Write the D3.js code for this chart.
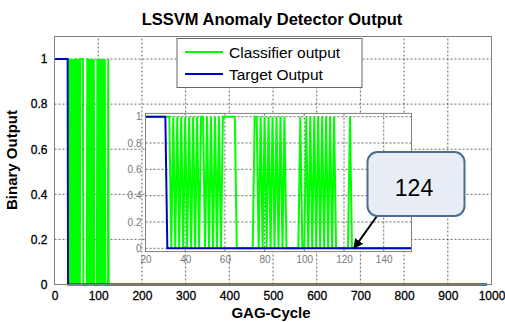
<!DOCTYPE html>
<html>
<head>
<meta charset="utf-8">
<script src="https://cdn.jsdelivr.net/npm/d3@7"></script>
<style>
  body { margin: 0; background: #fff; }
  text { font-family: "Liberation Sans", Arial, sans-serif; }
</style>
</head>
<body>
<svg id="chart" width="505" height="322"></svg>
<script>
// classifier output for cycles 1..124, 0 afterwards
const classifierOut = [
  1,1,1,1,1,1,1,1,1,1, 1,1,1,1,1,1,1,1,1,1, 1,1,1,1,1,1,1,1,1,1,
  1,1,0,1,0,1,0,1,0,1, 0,1,0,1,0,1,0,1,1,0, 1,0,1,0,1,0,1,0,1,1,
  1,1,1,1,1,0,0,0,0,0, 0,0,0,0,1,1,0,1,0,1, 0,1,0,1,0,1,0,1,0,1,
  0,0,0,0,0,0,0,1,0,0, 1,0,1,0,1,0,1,0,1,0, 1,0,1,0,1,0,0,0,0,0,
  0,0,1,0
];
const lastCycle = 990;
// target output change points [cycle, value]
const targetOut = [[1, 1], [30, 1], [31, 0], [990, 0]];

const mainXTicks = [0, 100, 200, 300, 400, 500, 600, 700, 800, 900, 1000];
const mainYTicks = [0, 0.2, 0.4, 0.6, 0.8, 1];
const insetXTicks = [20, 40, 60, 80, 100, 120, 140];
const insetYTicks = [0, 0.2, 0.4, 0.6, 0.8, 1];

const classPts = classifierOut.map((v, i) => [i + 1, v]);
classPts.push([lastCycle, 0]);

const svg = d3.select("#chart");

function drawPanel(opt) {
  const x = d3.scaleLinear().domain(opt.xd).range(opt.xr);
  const y = d3.scaleLinear().domain(opt.yd).range(opt.yr);
  const g = svg.append("g");
  g.append("rect")
    .attr("x", opt.xr[0]).attr("y", opt.yr[1])
    .attr("width", opt.xr[1] - opt.xr[0]).attr("height", opt.yr[0] - opt.yr[1])
    .attr("fill", "#fff");

  // grid
  g.selectAll(".gx").data(opt.xt.filter(d => d > opt.xd[0] && d < opt.xd[1]))
    .enter().append("line")
    .attr("x1", d => x(d)).attr("x2", d => x(d))
    .attr("y1", opt.yr[0]).attr("y2", opt.yr[1])
    .attr("stroke", "#444").attr("stroke-width", 0.8).attr("stroke-dasharray", "2,2");
  g.selectAll(".gy").data(opt.yt.filter(d => d > opt.yd[0] && d < opt.yd[1]))
    .enter().append("line")
    .attr("y1", d => y(d)).attr("y2", d => y(d))
    .attr("x1", opt.xr[0]).attr("x2", opt.xr[1])
    .attr("stroke", "#444").attr("stroke-width", 0.8).attr("stroke-dasharray", "2,2");

  const clipId = "clip" + opt.id;
  g.append("clipPath").attr("id", clipId).append("rect")
    .attr("x", opt.xr[0]).attr("y", opt.yr[1] - 2)
    .attr("width", opt.xr[1] - opt.xr[0]).attr("height", opt.yr[0] - opt.yr[1] + 4);

  const line = d3.line().x(d => x(d[0])).y(d => y(d[1]));
  const lines = g.append("g").attr("clip-path", `url(#${clipId})`);
  lines.append("path").datum(classPts).attr("d", line)
    .attr("fill", "none").attr("stroke", "#00ff00").attr("stroke-width", opt.gw);
  lines.append("path").datum(targetOut).attr("d", line)
    .attr("fill", "none").attr("stroke", "#0000cc").attr("stroke-width", 2);

  g.append("rect")
    .attr("x", opt.xr[0]).attr("y", opt.yr[1])
    .attr("width", opt.xr[1] - opt.xr[0]).attr("height", opt.yr[0] - opt.yr[1])
    .attr("fill", "none").attr("stroke", "#808080").attr("stroke-width", 1);

  const ax = g.append("g").attr("transform", `translate(0,${opt.yr[0]})`)
    .call(d3.axisBottom(x).tickValues(opt.xt).tickSize(0).tickPadding(opt.pad).tickFormat(d3.format("")));
  const ay = g.append("g").attr("transform", `translate(${opt.xr[0]},0)`)
    .call(d3.axisLeft(y).tickValues(opt.yt).tickSize(0).tickPadding(opt.pad).tickFormat(d => d === 0 ? "0" : d === 1 ? "1" : d3.format(".1f")(d)));
  [ax, ay].forEach(a => {
    a.select(".domain").remove();
    a.selectAll("text").attr("font-size", opt.fs).attr("fill", opt.tc)
      .attr("stroke", opt.tc).attr("stroke-width", opt.sw)
      .attr("font-family", "Liberation Sans, Arial, sans-serif");
  });
  return { x, y };
}

drawPanel({ id: "main", xd: [0, 1000], xr: [54.5, 491.5], yd: [0, 1.1], yr: [284.5, 36.5],
  xt: mainXTicks, yt: mainYTicks, gw: 2, fs: 12, tc: "#000", sw: 0.3, pad: 7 });

// title and axis labels
svg.append("text").attr("x", 272).attr("y", 25).attr("text-anchor", "middle")
  .attr("font-size", 16.5).attr("font-weight", "bold").text("LSSVM Anomaly Detector Output");
svg.append("text").attr("x", 271).attr("y", 318).attr("text-anchor", "middle")
  .attr("font-size", 15).attr("font-weight", "bold").text("GAG-Cycle");
svg.append("text").attr("transform", "translate(17,160) rotate(-90)").attr("text-anchor", "middle")
  .attr("font-size", 15).attr("font-weight", "bold").text("Binary Output");

// legend
const lg = svg.append("g");
lg.append("rect").attr("x", 177).attr("y", 38.5).attr("width", 185).attr("height", 49)
  .attr("fill", "#fff").attr("stroke", "#666").attr("stroke-width", 1);
[["Classifier output", "#00ff00", 52], ["Target Output", "#0000cc", 74]].forEach(([t, c, yy]) => {
  lg.append("line").attr("x1", 185).attr("x2", 223).attr("y1", yy).attr("y2", yy)
    .attr("stroke", c).attr("stroke-width", 2);
  lg.append("text").attr("x", 229).attr("y", yy + 5.5).attr("font-size", 15.5).text(t);
});

// inset zoom
const inset = drawPanel({ id: "inset", xd: [20, 154], xr: [145.5, 411.5], yd: [-0.025, 1.025], yr: [251.6, 113.4],
  xt: insetXTicks, yt: insetYTicks, gw: 2, fs: 10, tc: "#777", sw: 0, pad: 4 });

// callout
const arrowAt = [124, 0];
svg.append("defs").append("marker").attr("id", "ah").attr("viewBox", "0 0 10 10")
  .attr("refX", 9).attr("refY", 5).attr("markerWidth", 5).attr("markerHeight", 5).attr("orient", "auto")
  .append("path").attr("d", "M0,0 L10,5 L0,10 z").attr("fill", "#000");
svg.append("line").attr("x1", 377).attr("y1", 216)
  .attr("x2", inset.x(arrowAt[0]) + 2).attr("y2", inset.y(arrowAt[1]))
  .attr("stroke", "#000").attr("stroke-width", 2).attr("marker-end", "url(#ah)");
svg.append("rect").attr("x", 367.5).attr("y", 152).attr("width", 97).attr("height", 64).attr("rx", 10)
  .attr("fill", "#e9eef6").attr("stroke", "#4f6d8f").attr("stroke-width", 2);
svg.append("text").attr("x", 414).attr("y", 196).attr("text-anchor", "middle")
  .attr("font-size", 23).text("124");
</script>
</body>
</html>
